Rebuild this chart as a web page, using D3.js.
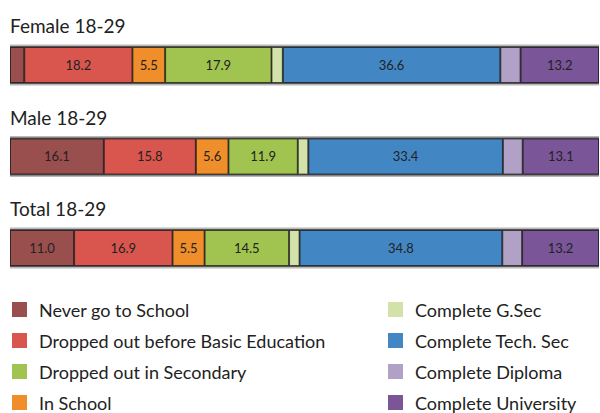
<!DOCTYPE html>
<html>
<head>
<meta charset="utf-8">
<script src="https://cdn.jsdelivr.net/npm/d3@7"></script>
<style>
  html, body { margin: 0; padding: 0; background: #fff; }
  svg { display: block; }
  text { font-family: Lato, "Open Sans", sans-serif; fill: #222; }
</style>
</head>
<body>
<svg id="chart" width="600" height="413"></svg>
<script>
// ---- data ----
const categories = [
  "Never go to School",
  "Dropped out before Basic Education",
  "In School",
  "Dropped out in Secondary",
  "Complete G.Sec",
  "Complete Tech. Sec",
  "Complete Diploma",
  "Complete University"
];
const colors = ["#9a4f4f", "#d9564f", "#ef8e2b", "#a0c44f", "#d2e2a9", "#4287c4", "#b2a1c7", "#7a5597"];
const groups = ["Female 18-29", "Male 18-29", "Total 18-29"];
const female = [2.4, 18.2, 5.5, 17.9, 1.9, 36.6, 3.4, 13.2];
const male   = [16.1, 15.8, 5.6, 11.9, 1.8, 33.4, 3.4, 13.1];
const total  = [11.0, 16.9, 5.5, 14.5, 1.8, 34.8, 3.4, 13.2];
const labelMin = 5;
const legendLeft  = ["Never go to School", "Dropped out before Basic Education", "Dropped out in Secondary", "In School"];
const legendRight = ["Complete G.Sec", "Complete Tech. Sec", "Complete Diploma", "Complete University"];

const seriesByGroup = [female, male, total];

const svg = d3.select("#chart");
const x = d3.scaleLinear().domain([0, 100]).range([10, 599]);
const y = d3.scalePoint().domain(groups).range([47, 230]);
const bh = 36;
const color = d3.scaleOrdinal().domain(categories).range(colors);

groups.forEach((g, gi) => {
  const vals = seriesByGroup[gi];
  const sum = d3.sum(vals);
  let cum = 0;
  const segs = vals.map((v, i) => {
    const s = { cat: categories[i], v, i, x0: cum / sum * 100, x1: (cum + v) / sum * 100 };
    cum += v;
    return s;
  });
  const y0 = y(g);
  const grp = svg.append("g");

  grp.append("text")
    .attr("x", 10).attr("y", y0 - 14)
    .attr("font-size", 19)
    .text(g);

  // gray frame/shadow
  grp.append("rect")
    .attr("x", x(0)).attr("y", y0 - 2.5)
    .attr("width", x(100) - x(0)).attr("height", bh + 5)
    .attr("fill", "#b8b8b8");
  grp.append("rect")
    .attr("x", x(0)).attr("y", y0 - 1)
    .attr("width", x(100) - x(0)).attr("height", bh + 2)
    .attr("fill", "#555");

  grp.selectAll("rect.seg").data(segs).enter().append("rect")
    .attr("class", "seg")
    .attr("x", d => x(d.x0) + 0.5)
    .attr("y", y0 + 0.5)
    .attr("width", d => Math.max(0, x(d.x1) - x(d.x0) - 1))
    .attr("height", bh - 1)
    .attr("fill", d => color(d.cat))
    .attr("stroke", "rgba(0,0,0,0.55)")
    .attr("stroke-width", 1);

  grp.selectAll("text.lbl").data(segs.filter(d => d.v >= labelMin)).enter().append("text")
    .attr("class", "lbl")
    .attr("x", d => (x(d.x0) + x(d.x1)) / 2)
    .attr("y", y0 + bh / 2 + 4.5)
    .attr("text-anchor", "middle")
    .attr("font-size", 13)
    .text(d => d.v.toFixed(1));
});

function legend(items, lx, tx) {
  const ly = d3.scalePoint().domain(items).range([302, 395]);
  const lg = svg.append("g");
  lg.selectAll("rect").data(items).enter().append("rect")
    .attr("x", lx).attr("y", d => ly(d))
    .attr("width", 15).attr("height", 15)
    .attr("fill", d => color(d));
  lg.selectAll("text").data(items).enter().append("text")
    .attr("x", tx).attr("y", d => ly(d) + 15)
    .attr("font-size", 18)
    .text(d => d);
}
legend(legendLeft, 12, 39);
legend(legendRight, 388, 415);
</script>
</body>
</html>
